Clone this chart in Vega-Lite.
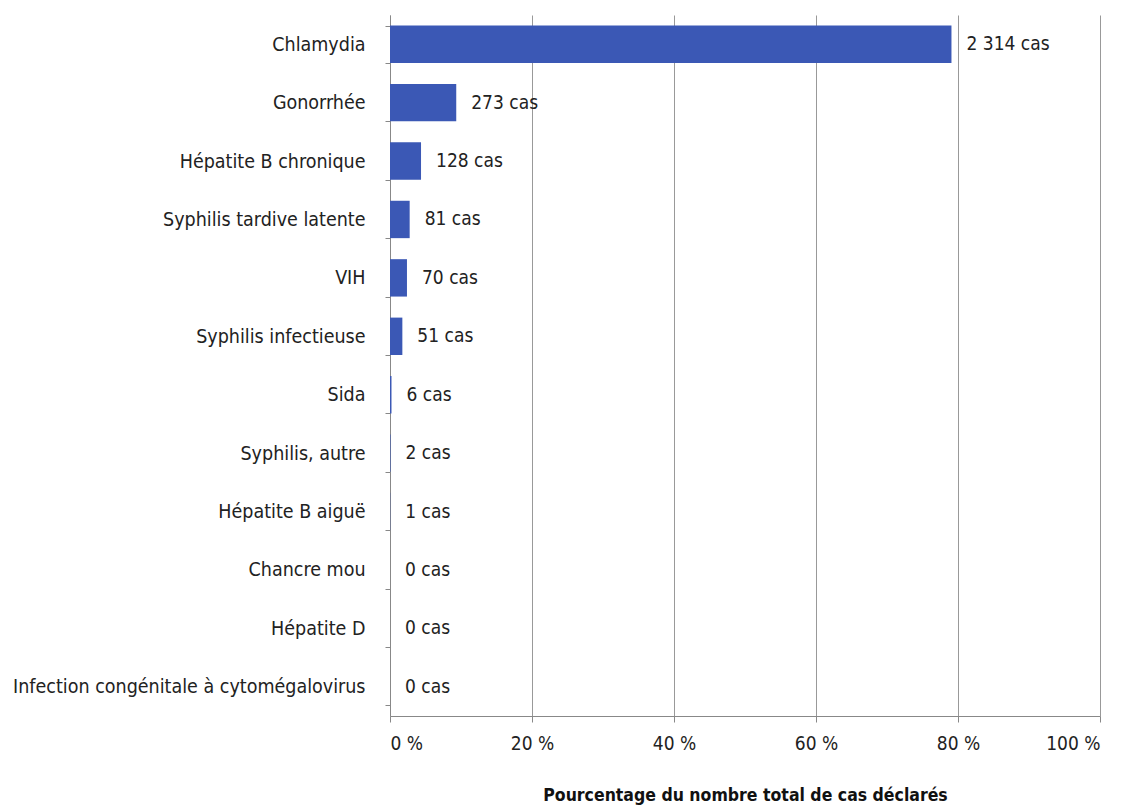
{
  "$schema": "https://vega.github.io/schema/vega-lite/v6.json",
  "width": 710,
  "height": 701,
  "autosize": {"type": "none"},
  "padding": {"left": 390, "top": 15, "right": 32, "bottom": 95},
  "background": "white",
  "config": {
    "view": {"stroke": null},
    "font": "DejaVu Sans Condensed, Liberation Sans Narrow, sans-serif"
  },
  "data": {
    "values": [
      {"maladie": "Chlamydia", "pct": 79.08, "label": "2 314 cas"},
      {"maladie": "Gonorrhée", "pct": 9.33, "label": "273 cas"},
      {"maladie": "Hépatite B chronique", "pct": 4.37, "label": "128 cas"},
      {"maladie": "Syphilis tardive latente", "pct": 2.77, "label": "81 cas"},
      {"maladie": "VIH", "pct": 2.39, "label": "70 cas"},
      {"maladie": "Syphilis infectieuse", "pct": 1.74, "label": "51 cas"},
      {"maladie": "Sida", "pct": 0.21, "label": "6 cas"},
      {"maladie": "Syphilis, autre", "pct": 0.07, "label": "2 cas"},
      {"maladie": "Hépatite B aiguë", "pct": 0.03, "label": "1 cas"},
      {"maladie": "Chancre mou", "pct": 0, "label": "0 cas"},
      {"maladie": "Hépatite D", "pct": 0, "label": "0 cas"},
      {"maladie": "Infection congénitale à cytomégalovirus", "pct": 0, "label": "0 cas"}
    ]
  },
  "encoding": {
    "y": {
      "field": "maladie",
      "type": "nominal",
      "sort": null,
      "scale": {"paddingInner": 0.36, "paddingOuter": 0.18},
      "axis": {
        "title": null,
        "labelFontSize": 19.5,
        "labelColor": "#222",
        "labelPadding": 20,
        "tickSize": 5,
        "tickBand": "extent",
        "tickColor": "#888",
        "domainColor": "#888",
        "labelLimit": 400
      }
    }
  },
  "layer": [
    {
      "mark": {"type": "bar", "color": "#3b58b5"},
      "encoding": {
        "x": {
          "field": "pct",
          "type": "quantitative",
          "scale": {"domain": [0, 100]},
          "axis": {
            "values": [0, 20, 40, 60, 80, 100],
            "labelExpr": "datum.value + ' %'",
            "labelFontSize": 19,
            "labelColor": "#222",
            "labelPadding": 12,
            "tickSize": 6,
            "tickColor": "#888",
            "domainColor": "#888",
            "grid": true,
            "gridColor": "#999",
            "gridWidth": 1,
            "title": "Pourcentage du nombre total de cas déclarés",
            "titleFontSize": 17.5,
            "titleFontWeight": "bold",
            "titleColor": "#111",
            "titlePadding": 33
          }
        }
      }
    },
    {
      "mark": {"type": "text", "align": "left", "baseline": "middle", "dx": 15, "fontSize": 19, "color": "#222"},
      "encoding": {
        "x": {"field": "pct", "type": "quantitative"},
        "text": {"field": "label"}
      }
    }
  ]
}
